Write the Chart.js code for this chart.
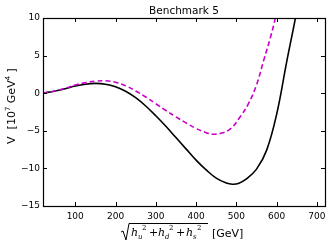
<!DOCTYPE html>
<html>
<head>
<meta charset="utf-8">
<script src="https://cdn.jsdelivr.net/npm/chart.js@4"></script>
<style>
  html, body { margin: 0; padding: 0; background: #fff; }
  #wrap { width: 332px; height: 247px; }
</style>
</head>
<body>
<div id="wrap"><canvas id="c" width="332" height="247"></canvas></div>
<script>
// ---- data ----
const xTicks = [100, 200, 300, 400, 500, 600, 700];
const yTicks = [-15, -10, -5, 0, 5, 10];

const solidX = [20, 50, 75, 100, 125, 150, 175, 200, 225, 250, 275, 300, 325, 350, 375, 400, 425, 450, 475, 490, 505, 525, 550, 575, 600, 625, 647, 660];
const solidV = [0, 0.3, 0.6, 0.95, 1.2, 1.3, 1.2, 0.85, 0.25, -0.6, -1.7, -3.0, -4.4, -5.9, -7.4, -8.9, -10.2, -11.3, -11.95, -12.1, -12.0, -11.4, -10.1, -7.6, -2.8, 4.2, 10.1, 14];

const dashX = [20, 50, 75, 100, 125, 150, 175, 200, 225, 250, 275, 300, 325, 350, 375, 400, 425, 440, 460, 485, 510, 530, 550, 568, 585, 597, 610];
const dashV = [0, 0.3, 0.65, 1.1, 1.4, 1.6, 1.65, 1.45, 1.0, 0.3, -0.5, -1.4, -2.3, -3.15, -3.95, -4.7, -5.25, -5.45, -5.35, -4.75, -3.1, -1.4, 1.1, 4.4, 7.5, 10.1, 14];

const pts = (xs, ys) => xs.map((x, i) => ({ x: x, y: ys[i] }));
const minus = v => String(v).replace('-', '\u2212');

// frame + inward ticks on all four sides (matplotlib style)
const frame = {
    id: 'frame',
    afterDatasetsDraw(chart) {
        const { ctx, chartArea: a, scales } = chart;
        ctx.save();
        ctx.strokeStyle = '#000';
        ctx.lineWidth = 1;
        ctx.beginPath();
        for (const v of xTicks) {
            const px = Math.round(scales.x.getPixelForValue(v)) + 0.5;
            ctx.moveTo(px, a.bottom); ctx.lineTo(px, a.bottom - 4);
            ctx.moveTo(px, a.top); ctx.lineTo(px, a.top + 4);
        }
        for (const v of yTicks) {
            const py = Math.round(scales.y.getPixelForValue(v)) + 0.5;
            ctx.moveTo(a.left, py); ctx.lineTo(a.left + 4, py);
            ctx.moveTo(a.right, py); ctx.lineTo(a.right - 4, py);
        }
        ctx.stroke();
        ctx.lineWidth = 1.2;
        ctx.strokeRect(Math.round(a.left) + 0.5, Math.round(a.top) + 0.5,
            Math.round(a.right - a.left), Math.round(a.bottom - a.top));
        ctx.restore();
    }
};

// title and the two axis labels (mathtext-like)
const labels = {
    id: 'labels',
    afterDraw(chart) {
        const { ctx, chartArea: a } = chart;
        ctx.save();
        ctx.fillStyle = '#000';
        ctx.textBaseline = 'alphabetic';

        ctx.font = '10.5px "DejaVu Sans"';
        ctx.textAlign = 'center';
        ctx.fillText('Benchmark 5', (a.left + a.right) / 2, 13.5);

        // y label, rotated
        ctx.save();
        ctx.translate(15, 106);
        ctx.rotate(-Math.PI / 2);
        const big = '11px "DejaVu Sans"', sup = '7px "DejaVu Sans"';
        const parts = [['V  [10', big, 0], ['7', sup, -5], [' GeV', big, 0], ['4', sup, -5], [' ]', big, 0]];
        let w = 0;
        for (const p of parts) { ctx.font = p[1]; w += ctx.measureText(p[0]).width; }
        let x = -w / 2;
        ctx.textAlign = 'left';
        for (const p of parts) {
            ctx.font = p[1];
            ctx.fillText(p[0], x, p[2]);
            x += ctx.measureText(p[0]).width;
        }
        ctx.restore();

        // x label: sqrt(h_u^2 + h_d^2 + h_s^2) [GeV]
        ctx.strokeStyle = '#000';
        ctx.lineWidth = 1;
        ctx.beginPath();
        ctx.moveTo(121, 232); ctx.lineTo(123, 231); ctx.lineTo(126, 240);
        ctx.lineTo(129, 223.5); ctx.lineTo(208, 223.5);
        ctx.stroke();
        ctx.textAlign = 'left';
        const hf = 'italic 11px "DejaVu Serif"', sf = 'italic 7px "DejaVu Serif"', nf = '7px "DejaVu Serif"', pf = '11px "DejaVu Serif"';
        const terms = [['u', 131], ['d', 158], ['s', 186]];
        terms.forEach((t, i) => {
            ctx.font = hf;
            ctx.fillText('h', t[1], 236);
            const hw = ctx.measureText('h').width;
            ctx.font = sf;
            ctx.fillText(t[0], t[1] + hw, 239);
            ctx.font = nf;
            ctx.fillText('2', t[1] + hw + 4, 230);
            if (i < 2) {
                ctx.font = pf;
                ctx.fillText('+', t[1] + hw + 11, 236);
            }
        });
        ctx.font = '11px "DejaVu Sans"';
        ctx.fillText('[GeV]', 212, 237);
        ctx.restore();
    }
};

new Chart(document.getElementById('c'), {
    type: 'scatter',
    data: {
        datasets: [
            {
                data: pts(dashX, dashV),
                showLine: true,
                borderColor: '#c800c8',
                borderWidth: 1.6,
                borderDash: [5, 3],
                pointRadius: 0,
                tension: 0.4,
            },
            {
                data: pts(solidX, solidV),
                showLine: true,
                borderColor: '#000',
                borderWidth: 1.6,
                pointRadius: 0,
                tension: 0.4,
            },
        ]
    },
    options: {
        responsive: false,
        animation: false,
        devicePixelRatio: 1,
        layout: { padding: { top: 18, right: 7, left: 0, bottom: 0 } },
        plugins: { legend: { display: false }, tooltip: { enabled: false } },
        scales: {
            x: {
                type: 'linear', min: 20, max: 720,
                grid: { display: false, drawTicks: false },
                border: { display: false },
                afterBuildTicks: s => { s.ticks = xTicks.map(v => ({ value: v })); },
                afterFit: s => { s.height = 41; },
                ticks: { padding: 5, color: '#000', font: { family: 'DejaVu Sans', size: 9 }, maxRotation: 0 },
            },
            y: {
                type: 'linear', min: -15, max: 10,
                grid: { display: false, drawTicks: false },
                border: { display: false },
                afterBuildTicks: s => { s.ticks = yTicks.map(v => ({ value: v })); },
                afterFit: s => { s.width = 43; },
                ticks: { padding: 3, color: '#000', font: { family: 'DejaVu Sans', size: 9 }, callback: v => minus(v) },
            }
        }
    },
    plugins: [frame, labels]
});
</script>
</body>
</html>
